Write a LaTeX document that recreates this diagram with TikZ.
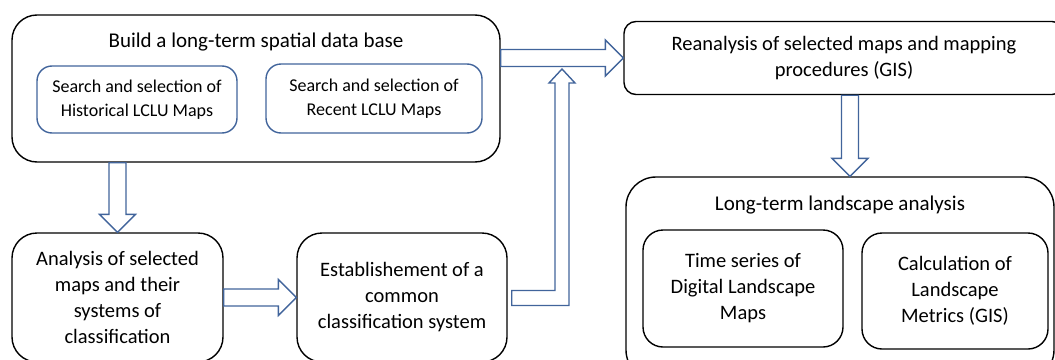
\documentclass[tikz,border=0pt]{standalone}
\usepackage{fontspec}
\setmainfont{Carlito}
\usetikzlibrary{calc}
\definecolor{arrowblue}{RGB}{65,100,155}
\tikzset{
  box/.style={draw, line width=1.4pt, align=center, inner sep=0pt},
  subbox/.style={box, draw=arrowblue},
  blockarrow/.style={draw=arrowblue, line width=1.4pt, fill=white, line join=miter},
  titletext/.style={font=\fontsize{21}{27}\selectfont},
  maintext/.style={font=\fontsize{20.5}{26}\selectfont},
  smalltext/.style={font=\fontsize{18}{24}\selectfont}
}
\newcommand{\arrowshaft}{8.5pt}
\newcommand{\arrowwide}{18pt}
\newcommand{\arrowhead}{18pt}
% block arrow from #1 to #2
\newcommand{\blockarrow}[2]{%
  \coordinate (ba) at ($(#2)!\arrowhead!(#1)$);
  \draw[blockarrow] ($(#1)!\arrowshaft!90:(#2)$) -- ($(ba)!\arrowshaft!90:(#2)$) -- ($(ba)!\arrowwide!90:(#2)$) -- (#2)
    -- ($(ba)!\arrowwide!-90:(#2)$) -- ($(ba)!\arrowshaft!-90:(#2)$) -- ($(#1)!\arrowshaft!-90:(#2)$) -- cycle;}
\begin{document}
\begin{tikzpicture}[x=1pt,y=-1pt]
\useasboundingbox (0,0) rectangle (1055,359);
\clip (0,0) rectangle (1055,359);

% Data base
\node[box, rounded corners=25pt, minimum width=488pt, minimum height=147pt] (build) at (256,88.5) {};
\node[titletext] (buildtitle) at (256,42) {Build a long-term spatial data base};
\node[subbox, smalltext, rounded corners=15pt, minimum width=200pt, minimum height=67pt] (hist) at (137,99.5) {Search and selection of\\Historical LCLU Maps};
\node[subbox, smalltext, rounded corners=15pt, minimum width=216pt, minimum height=69pt] (recent) at (374,98.5) {Search and selection of\\Recent LCLU Maps};

% Classification
\node[box, maintext, rounded corners=25pt, minimum width=211pt, minimum height=129pt] (analysis) at (117.5,297.5) {Analysis of selected\\maps and their\\systems of\\classification};
\node[box, maintext, rounded corners=25pt, minimum width=210pt, minimum height=129pt] (establish) at (402,297.5) {Establishement of a\\common\\classification system};

% Reanalysis
\node[box, maintext, rounded corners=12pt, minimum width=440pt, minimum height=73pt] (reanal) at (844,58) {Reanalysis of selected maps and mapping\\procedures (GIS)};

% Landscape analysis
\node[box, rounded corners=30pt, minimum width=428pt, minimum height=203pt] (longterm) at (840,278.5) {};
\node[titletext] (longtitle) at (840,205) {Long-term landscape analysis};
\node[box, maintext, rounded corners=20pt, minimum width=200pt, minimum height=117pt] (series) at (743,288.5) {Time series of\\Digital Landscape\\Maps};
\node[box, maintext, rounded corners=20pt, minimum width=186pt, minimum height=116pt] (metrics) at (955,291) {Calculation of\\Landscape\\Metrics (GIS)};

% Arrows
\coordinate (a1) at (analysis.north |- build.south);
\blockarrow{a1}{analysis.north}
\blockarrow{analysis.east}{establish.west}
\coordinate (a2) at (build.east |- reanal.west);
\blockarrow{a2}{reanal.west}
\coordinate (a3) at ([xshift=6pt]reanal.south);
\coordinate (a4) at (a3 |- longterm.north);
\blockarrow{a3}{a4}

% Bent arrow
\coordinate (jointip) at (562,69);
\coordinate (bend) at (jointip |- establish.east);
\draw[blockarrow] ($(establish.east)+(4,-7)$) -- ($(bend)+(-7,-7)$) -- ($(jointip)+(-7,14)$) -- ($(jointip)+(-13,14)$) -- (jointip)
  -- ($(jointip)+(13,14)$) -- ($(jointip)+(7,14)$) -- ($(bend)+(7,8)$) -- ($(establish.east)+(4,8)$) -- cycle;
\end{tikzpicture}
\end{document}
